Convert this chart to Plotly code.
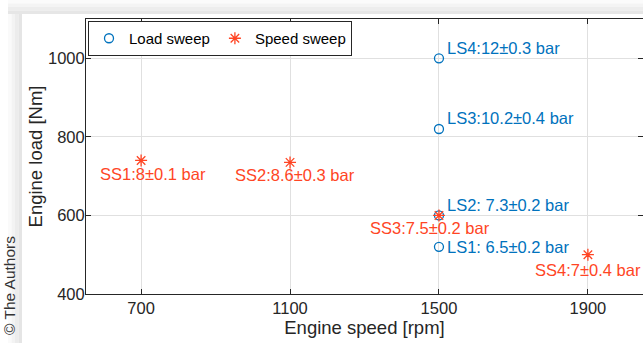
import plotly.graph_objects as go

# ---- data ----
load_speed = [1500, 1500, 1500, 1500]
load_torque = [520, 600, 820, 1000]
load_labels = ["LS1: 6.5±0.2 bar", "LS2: 7.3±0.2 bar", "LS3:10.2±0.4 bar", "LS4:12±0.3 bar"]

speed_speed = [700, 1100, 1500, 1900]
speed_torque = [740, 735, 600, 500]
speed_labels = ["SS1:8±0.1 bar", "SS2:8.6±0.3 bar", "SS3:7.5±0.2 bar", "SS4:7±0.4 bar"]

x_ticks = [700, 1100, 1500, 1900]
y_ticks = [400, 600, 800, 1000]

# ---- styles ----
BLUE = "#0072BD"
RED = "#FF4524"
AX = "#262626"
FONT = "Liberation Sans, Arial, sans-serif"

# label pixel offsets (style only)
load_shift = [(6, 0), (6, 10), (6, 11), (6, 10)]
speed_shift = [(12, -14), (5, -13), (-9, -13), (0, -15)]

W, H = 643, 343
ML, MR, MT, MB = 86, 0, 19, 49
PW, PH = W - ML - MR, H - MT - MB

fig = go.Figure()
fig.add_trace(go.Scatter(
    x=load_speed, y=load_torque, mode="markers", name="Load sweep",
    marker=dict(symbol="circle-open", size=9, color=BLUE, line=dict(width=1.3, color=BLUE)),
))
fig.add_trace(go.Scatter(
    x=speed_speed, y=speed_torque, mode="markers", name="Speed sweep",
    marker=dict(symbol="asterisk-open", size=10, color=RED, line=dict(width=1.3, color=RED)),
))

annotations = []
for xv, yv, t, (dx, dy) in zip(load_speed, load_torque, load_labels, load_shift):
    annotations.append(dict(x=xv, y=yv, text=t, showarrow=False, xanchor="left", yanchor="middle",
                            xshift=dx, yshift=dy, font=dict(family=FONT, size=16.5, color=BLUE)))
for xv, yv, t, (dx, dy) in zip(speed_speed, speed_torque, speed_labels, speed_shift):
    annotations.append(dict(x=xv, y=yv, text=t, showarrow=False, xanchor="center", yanchor="middle",
                            xshift=dx, yshift=dy, font=dict(family=FONT, size=16.5, color=RED)))

annotations.append(dict(xref="paper", yref="paper", x=(9 - ML) / PW, y=(MT + PH - 286) / PH,
                        text="© The Authors", textangle=-90, showarrow=False,
                        xanchor="center", yanchor="middle",
                        font=dict(family=FONT, size=15.5, color="#333333")))

# page shading strips (decoration)
shapes = []
top_cols = ["#fbfbfb", "#f4f4f4", "#ededed", "#e6e6e6"]
for i, c in enumerate(top_cols):
    y0p, y1p = i * 3.5, (i + 1) * 3.5
    shapes.append(dict(type="rect", xref="paper", yref="paper", layer="below",
                       x0=(8 - ML) / PW, x1=1.01, y0=(MT + PH - y0p) / PH, y1=(MT + PH - y1p) / PH,
                       fillcolor=c, line=dict(width=0)))
left_cols = ["#fafafa", "#f3f3f3", "#ececec", "#e5e5e5"]
for i, c in enumerate(left_cols):
    x0p, x1p = 8 + i * 3.5, 8 + (i + 1) * 3.5
    shapes.append(dict(type="rect", xref="paper", yref="paper", layer="below",
                       x0=(x0p - ML) / PW, x1=(x1p - ML) / PW, y0=(MT + PH - 14) / PH, y1=-MB / PH - 0.01,
                       fillcolor=c, line=dict(width=0)))

axis_common = dict(showline=True, linecolor=AX, linewidth=1, mirror="ticks", ticks="inside",
                   ticklen=5, tickcolor=AX, showgrid=True, gridcolor="#e0e0e0", gridwidth=1,
                   zeroline=False, tickfont=dict(family=FONT, size=16.5, color=AX))

fig.update_layout(
    width=W, height=H, margin=dict(l=ML, r=MR, t=MT, b=MB),
    paper_bgcolor="white", plot_bgcolor="white",
    font=dict(family=FONT, color=AX),
    xaxis=dict(range=[552, 2048], tickvals=x_ticks, ticktext=[str(v) for v in x_ticks],
               title=dict(text="Engine speed [rpm]", font=dict(family=FONT, size=18.5, color=AX), standoff=3),
               ticklabelstandoff=-1,
               **axis_common),
    yaxis=dict(range=[400, 1100], tickvals=y_ticks, ticktext=[str(v) for v in y_ticks],
               title=dict(text="Engine load [Nm]", font=dict(family=FONT, size=18.5, color=AX), standoff=0),
               ticklabelstandoff=-3,
               **axis_common),
    legend=dict(orientation="h", x=2 / PW, y=1 - 2 / PH, xanchor="left", yanchor="top",
                bgcolor="white", bordercolor=AX, borderwidth=1, itemwidth=30,
                font=dict(family=FONT, size=15, color="#000000"), tracegroupgap=0),
    annotations=annotations, shapes=shapes, showlegend=True,
)

fig.write_html("out.html")
